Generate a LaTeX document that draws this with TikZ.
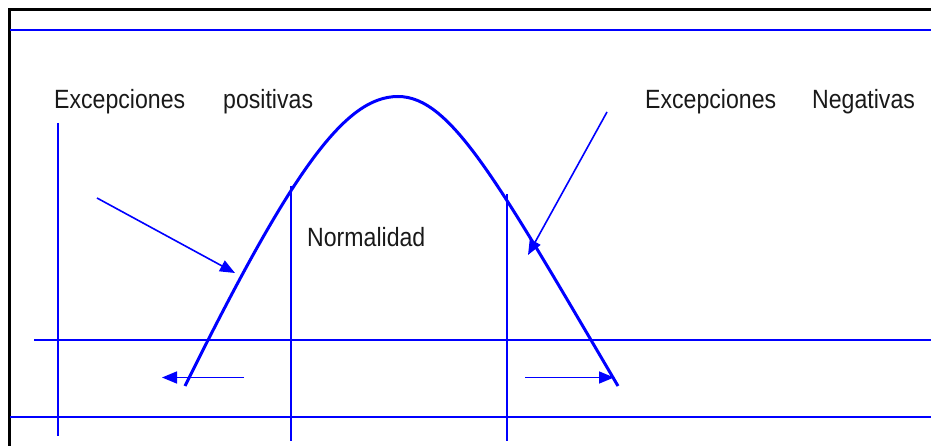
\documentclass[tikz,border=0pt]{standalone}
\usepackage{fontspec}
\setmainfont{Liberation Sans}
\usetikzlibrary{arrows.meta}
\definecolor{lineblue}{RGB}{0,0,255}
\definecolor{textgray}{RGB}{25,25,25}
\tikzset{
  frame/.style={line width=3pt, black},
  guide/.style={line width=2pt, lineblue},
  bell/.style={line width=3pt, lineblue, line join=round},
  pointer/.style={line width=1.6pt, lineblue, -{Triangle[length=15pt,width=12pt]}},
  label/.style={anchor=base west, inner sep=0pt, text=textgray, font=\fontsize{22}{22}\selectfont}
}
\newcommand{\tallt}[1]{\scalebox{1.05}[1.2]{#1}}
\begin{document}
\begin{tikzpicture}[x=1pt,y=-1pt]
\useasboundingbox (0,0) rectangle (931,446);
% frame
\coordinate (fTL) at (9.5,9.5);
\coordinate (fTR) at (931,9.5);
\coordinate (fBL) at (9.5,446);
\draw[frame] (fTR) -- (fTL) -- (fBL);
% guide lines
\coordinate (h1a) at (10,30);  \coordinate (h1b) at (931,30);
\coordinate (h2a) at (34,340); \coordinate (h2b) at (931,340);
\coordinate (h3a) at (10,417); \coordinate (h3b) at (931,417);
\coordinate (v1a) at (58,123); \coordinate (v1b) at (58,436);
\coordinate (v2a) at (291,186); \coordinate (v2b) at (291,441);
\coordinate (v3a) at (507,194); \coordinate (v3b) at (507,441);
\draw[guide] (h1a) -- (h1b);
\draw[guide] (h2a) -- (h2b);
\draw[guide] (h3a) -- (h3b);
\draw[guide] (v1a) -- (v1b);
\draw[guide] (v2a) -- (v2b);
\draw[guide] (v3a) -- (v3b);
% bell curve
\coordinate (bStart) at (185,386);
\coordinate (bPeak) at (398,96.5);
\coordinate (bEnd) at (618,386);
\draw[bell] (bStart) .. controls (292,170) and (345,96.5) .. (bPeak)
  .. controls (451,96.5) and (498,182) .. (bEnd);
% text
\node[label] (exPos) at (54,109) {\tallt{Excepciones}};
\node[label] (pos) at (223,109) {\tallt{positivas}};
\node[label] (exNeg) at (645,109) {\tallt{Excepciones}};
\node[label] (neg) at (812,109) {\tallt{Negativas}};
\node[label] (norm) at (307,247) {\tallt{Normalidad}};
% pointers
\coordinate (pL0) at (97,198);  \coordinate (pL1) at (235,273);
\coordinate (pR0) at (607,112); \coordinate (pR1) at (528,255);
\coordinate (aL0) at (244,377.5); \coordinate (aL1) at (162,377.5);
\coordinate (aR0) at (525,377.5); \coordinate (aR1) at (614,377.5);
\draw[pointer] (pL0) -- (pL1);
\draw[pointer] (pR0) -- (pR1);
\draw[pointer] (aL0) -- (aL1);
\draw[pointer] (aR0) -- (aR1);
\end{tikzpicture}
\end{document}
